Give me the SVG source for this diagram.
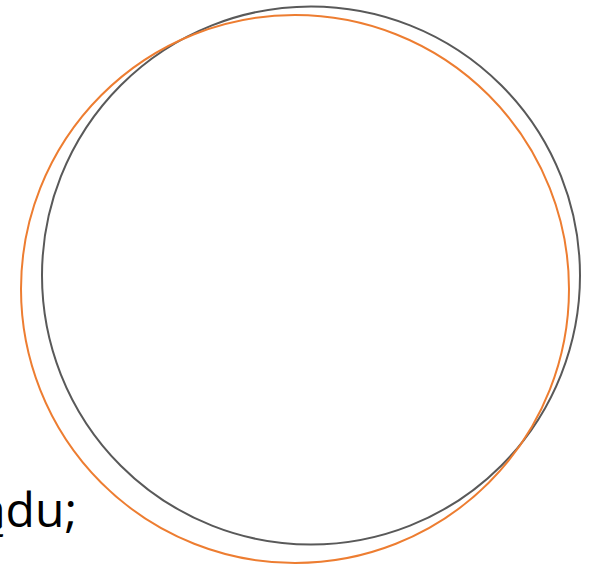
<svg xmlns="http://www.w3.org/2000/svg" width="595" height="569" viewBox="0 0 595 569">
<style>
.c{fill:none}
.gray{stroke:#595959;stroke-width:2}
.orange{stroke:#ED7D31;stroke-width:2}
.t{font-family:"Open Sans","Liberation Sans",sans-serif;font-size:48px;fill:#000}
</style>
<rect width="595" height="569" fill="#fff"/>
<g id="label"><text class="t" x="77" y="527" text-anchor="end">ądu;</text></g>
<g id="gray-circle"><circle class="c gray" cx="311" cy="275.5" r="269"/></g>
<g id="orange-circle"><circle class="c orange" cx="295" cy="289" r="274"/></g>
</svg>
